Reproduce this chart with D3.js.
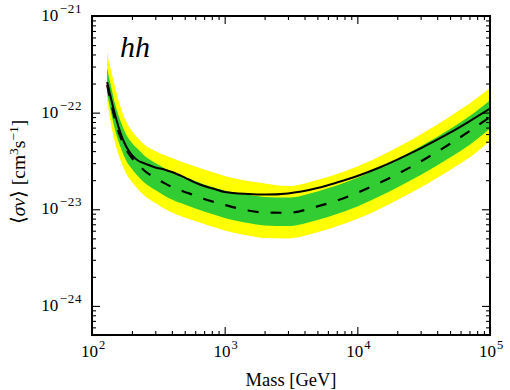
<!DOCTYPE html>
<html><head><meta charset="utf-8">
<script src="https://cdn.jsdelivr.net/npm/d3@7"></script>
<style>body{margin:0;background:#fff}svg{display:block}</style>
</head><body><svg id="c" width="510" height="390"></svg>
<script>
// Dark matter mass grid [GeV]
const masses = [130,140,150,165,180,200,225,250,300,350,400,500,600,700,850,1000,1500,2000,3000,5000,7000,10000,15000,20000,30000,50000,70000,100000];
// Observed limit (solid)
const observed = [2.07e-22,1.35e-22,9.23e-23,6.01e-23,4.52e-23,3.64e-23,3.16e-23,2.98e-23,2.71e-23,2.58e-23,2.43e-23,2.13e-23,1.89e-23,1.74e-23,1.61e-23,1.51e-23,1.44e-23,1.42e-23,1.46e-23,1.66e-23,1.89e-23,2.21e-23,2.74e-23,3.27e-23,4.27e-23,6.20e-23,8.14e-23,1.10e-22];
// Median expected limit (dashed)
const expected = [1.93e-22,1.23e-22,8.19e-23,5.47e-23,4.21e-23,3.39e-23,2.87e-23,2.49e-23,2.11e-23,1.87e-23,1.70e-23,1.51e-23,1.39e-23,1.28e-23,1.18e-23,1.11e-23,9.71e-24,9.26e-24,9.20e-24,1.07e-23,1.23e-23,1.48e-23,1.90e-23,2.31e-23,3.12e-23,4.76e-23,6.43e-23,9.01e-23];
// 1 sigma band (green)
const sigma1Hi = [2.90e-22,1.80e-22,1.20e-22,8.00e-23,6.01e-23,4.85e-23,4.11e-23,3.56e-23,3.01e-23,2.67e-23,2.43e-23,2.16e-23,1.96e-23,1.80e-23,1.66e-23,1.56e-23,1.41e-23,1.34e-23,1.32e-23,1.53e-23,1.76e-23,2.12e-23,2.72e-23,3.31e-23,4.48e-23,6.77e-23,9.17e-23,1.34e-22];
const sigma1Lo = [1.60e-22,9.68e-23,6.46e-23,4.31e-23,3.24e-23,2.61e-23,2.16e-23,1.87e-23,1.58e-23,1.39e-23,1.26e-23,1.12e-23,1.02e-23,9.48e-24,8.72e-24,8.12e-24,7.21e-24,6.80e-24,6.71e-24,7.75e-24,8.94e-24,1.07e-23,1.38e-23,1.68e-23,2.26e-23,3.43e-23,4.63e-23,6.85e-23];
// 2 sigma band (yellow)
const sigma2Hi = [4.14e-22,2.63e-22,1.80e-22,1.12e-22,8.19e-23,6.46e-23,5.34e-23,4.63e-23,4.01e-23,3.64e-23,3.39e-23,3.01e-23,2.77e-23,2.58e-23,2.37e-23,2.21e-23,1.96e-23,1.85e-23,1.74e-23,2.01e-23,2.32e-23,2.77e-23,3.56e-23,4.36e-23,5.94e-23,9.12e-23,1.24e-22,1.80e-22];
const sigma2Lo = [1.35e-22,7.27e-23,4.74e-23,3.16e-23,2.37e-23,1.92e-23,1.58e-23,1.37e-23,1.16e-23,1.02e-23,9.26e-24,8.22e-24,7.56e-24,7.04e-24,6.48e-24,6.03e-24,5.36e-24,5.05e-24,4.99e-24,5.78e-24,6.67e-24,7.97e-24,1.02e-23,1.25e-23,1.68e-23,2.55e-23,3.43e-23,5.09e-23];

const xTickExps = [2,3,4,5];
const yTickExps = [-21,-22,-23,-24];
const channelLabel = "hh";
const xTitle = "Mass [GeV]";

const svg = d3.select("#c");
const L=92,R=490,T=16,B=335;
const x = d3.scaleLog().domain([100,1e5]).range([L,R]);
const y = d3.scaleLog().domain([5e-25,1e-21]).range([B,T]);
const FONT = "'Liberation Serif', 'Times New Roman', serif";

svg.append("defs").append("clipPath").attr("id","clip")
  .append("rect").attr("x",L).attr("y",T).attr("width",R-L).attr("height",B-T);
const g = svg.append("g").attr("clip-path","url(#clip)");

const rows = masses.map((m,i)=>({m, obs:observed[i], exp:expected[i], g1:sigma1Hi[i], g0:sigma1Lo[i], y1:sigma2Hi[i], y0:sigma2Lo[i]}));
const curve = d3.curveMonotoneX;
g.append("path").datum(rows).attr("fill","#ffff00")
  .attr("d", d3.area().x(d=>x(d.m)).y0(d=>y(d.y0)).y1(d=>y(d.y1)).curve(curve));
g.append("path").datum(rows).attr("fill","#32cd32")
  .attr("d", d3.area().x(d=>x(d.m)).y0(d=>y(d.g0)).y1(d=>y(d.g1)).curve(curve));
g.append("path").datum(rows).attr("fill","none").attr("stroke","#000").attr("stroke-width",2.2)
  .attr("stroke-dasharray","11,12")
  .attr("d", d3.line().x(d=>x(d.m)).y(d=>y(d.exp)).curve(curve));
g.append("path").datum(rows).attr("fill","none").attr("stroke","#000").attr("stroke-width",2)
  .attr("d", d3.line().x(d=>x(d.m)).y(d=>y(d.obs)).curve(curve));

// ticks
const xMajor = xTickExps.map(e=>Math.pow(10,e));
const xMinor = [];
for (let e=2;e<5;e++) for (let k=2;k<10;k++) xMinor.push(k*Math.pow(10,e));
const yMajor = yTickExps.map(e=>Math.pow(10,e));
const yMinor = [];
for (let e=-25;e<-21;e++) for (let k=2;k<10;k++){const v=k*Math.pow(10,e); if(v>5e-25 && v<1e-21) yMinor.push(v);}

function addAxis(axisFn, scale, vals, size, transform){
  const a = svg.append("g").attr("transform",transform)
    .call(axisFn(scale).tickValues(vals).tickSize(size).tickFormat(""));
  a.select(".domain").remove();
  a.selectAll("line").attr("stroke","#000").attr("stroke-width",1.1);
}
addAxis(d3.axisBottom, x, xMajor, -8, `translate(0,${B})`);
addAxis(d3.axisBottom, x, xMinor, -4, `translate(0,${B})`);
addAxis(d3.axisTop, x, xMajor, -8, `translate(0,${T})`);
addAxis(d3.axisTop, x, xMinor, -4, `translate(0,${T})`);
addAxis(d3.axisLeft, y, yMajor, -8, `translate(${L},0)`);
addAxis(d3.axisLeft, y, yMinor, -4, `translate(${L},0)`);
addAxis(d3.axisRight, y, yMajor, -8, `translate(${R},0)`);
addAxis(d3.axisRight, y, yMinor, -4, `translate(${R},0)`);

svg.append("rect").attr("x",L).attr("y",T).attr("width",R-L).attr("height",B-T)
  .attr("fill","none").attr("stroke","#000").attr("stroke-width",2);

// tick labels
xTickExps.forEach(e=>{
  const t = svg.append("text").attr("x",x(Math.pow(10,e))+1).attr("y",357)
    .attr("text-anchor","middle").attr("font-family",FONT).attr("font-size",17).attr("fill","#000");
  t.append("tspan").text("10");
  t.append("tspan").attr("dx",1).attr("dy",-8).attr("font-size",12.5).text(String(e));
});
yTickExps.forEach(e=>{
  const t = svg.append("text").attr("x",82).attr("y",y(Math.pow(10,e))+5)
    .attr("text-anchor","end").attr("font-family",FONT).attr("font-size",17).attr("fill","#000");
  t.append("tspan").text("10");
  t.append("tspan").attr("dx",1.5).attr("dy",-8).attr("font-size",13).attr("letter-spacing",0.6).text("\u2212"+String(-e));
});

// axis titles
svg.append("text").attr("x",(L+R)/2).attr("y",386).attr("text-anchor","middle")
  .attr("font-family",FONT).attr("font-size",18.5).attr("fill","#000").text(xTitle);

const yt = svg.append("text").attr("transform",`translate(25,172) rotate(-90)`)
  .attr("text-anchor","middle").attr("font-family",FONT).attr("font-size",19.5).attr("fill","#000");
yt.append("tspan").text("\u27E8");
yt.append("tspan").attr("font-style","italic").text("\u03C3v");
yt.append("tspan").text("\u27E9 [cm");
yt.append("tspan").attr("dy",-7.5).attr("font-size",13.5).text("3");
yt.append("tspan").attr("dy",7.5).text("s");
yt.append("tspan").attr("dy",-7.5).attr("font-size",13.5).text("\u22121");
yt.append("tspan").attr("dy",7.5).text("]");

svg.append("text").attr("x",120).attr("y",57).attr("font-family",FONT)
  .attr("font-style","italic").attr("font-size",30).attr("fill","#000").text(channelLabel);
</script></body></html>
